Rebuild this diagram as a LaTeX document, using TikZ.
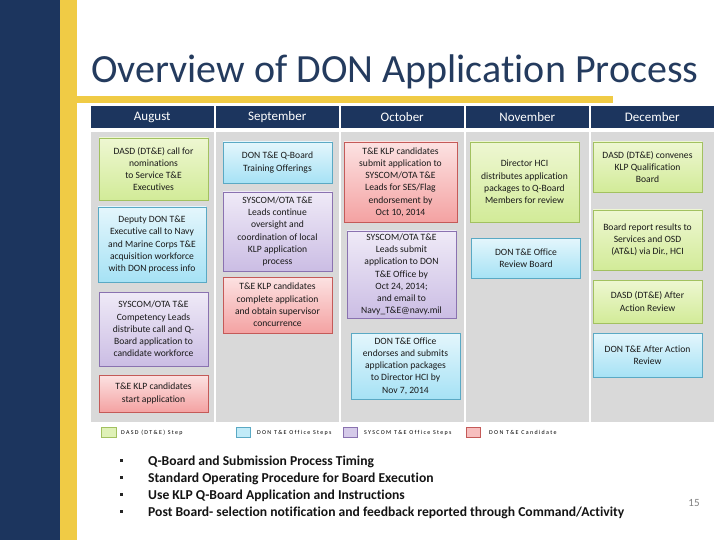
\documentclass[tikz,border=0pt]{standalone}
\usepackage{fontspec}
\setmainfont{Carlito}[Ligatures=NoCommon]
\definecolor{navy}{HTML}{1C355E}
\definecolor{gold}{HTML}{F0CB45}
\definecolor{colgray}{HTML}{D9D9D9}
\definecolor{titlec}{HTML}{243B5E}
\definecolor{gtop}{HTML}{EEF7D2}\definecolor{gbot}{HTML}{D2EB98}\definecolor{gline}{HTML}{A2C160}
\definecolor{btop}{HTML}{E4F6FC}\definecolor{bbot}{HTML}{A6E2F5}\definecolor{bline}{HTML}{5AA9C4}
\definecolor{ptop}{HTML}{EFEAF7}\definecolor{pbot}{HTML}{CBBDE4}\definecolor{pline}{HTML}{8A72B0}
\definecolor{rtop}{HTML}{FCE2E2}\definecolor{rbot}{HTML}{F4A2A2}\definecolor{rline}{HTML}{C45A58}
\tikzset{
  stepbox/.style={draw, line width=0.8pt, align=center, inner sep=1pt,
    minimum width=109pt, text=black!90, font=\fontsize{9.6}{12.2}\selectfont},
  gbox/.style={stepbox, draw=gline, top color=gtop, bottom color=gbot},
  bbox/.style={stepbox, draw=bline, top color=btop, bottom color=bbot},
  pbox/.style={stepbox, draw=pline, top color=ptop, bottom color=pbot},
  rbox/.style={stepbox, draw=rline, top color=rtop, bottom color=rbot},
  legtext/.style={anchor=west, inner sep=0pt, font=\fontsize{6}{6}\selectfont\addfontfeature{LetterSpace=22}},
  bullettext/.style={anchor=base west, inner sep=0pt, font=\fontsize{13.6}{15}\selectfont\bfseries, text=black!92},
  headtext/.style={text=white, font=\fontsize{13}{14}\selectfont},
}
\begin{document}
\begin{tikzpicture}[x=1pt,y=-1pt]
\useasboundingbox (0,0) rectangle (720,540);
\fill[white] (0,0) rectangle (720,540);
\fill[navy] (0,0) rectangle (60,540);
\fill[gold] (60,0) rectangle (77,540);
\fill[gold] (77,96) rectangle (613,103);
\node[anchor=base west, inner sep=0pt, text=titlec, font=\fontsize{40}{44}\selectfont] (title) at (91,83) {Overview of DON Application Process};
% headers and columns
\foreach \m [count=\i from 0] in {August,September,October,November,December}{
  \fill[navy] (91+125*\i,106) rectangle +(122.5,22);
  \fill[colgray] (91+125*\i,132) rectangle +(122.5,290);
  \node[headtext] (h\i) at (152.25+125*\i,117.5) {\m};
}
% August
\node[gbox, minimum height=62pt] (a1) at (153.5,169) {DASD (DT\&E) call for\\nominations\\to Service T\&E\\Executives};
\node[bbox, minimum height=75pt, minimum width=108pt] (a2) at (152,244.5) {Deputy DON T\&E\\Executive call to Navy\\and Marine Corps T\&E\\acquisition workforce\\with DON process info};
\node[pbox, minimum height=74pt] (a3) at (153.5,329) {SYSCOM/OTA T\&E\\Competency Leads\\distribute call and Q-\\Board application to\\candidate workforce};
\node[rbox, minimum height=37pt] (a4) at (153.5,393.5) {T\&E KLP candidates\\start application};
% September
\node[bbox, minimum height=41pt] (s1) at (277.5,162.5) {DON T\&E Q-Board\\Training Offerings};
\node[pbox, minimum height=79pt] (s2) at (277.5,231.5) {SYSCOM/OTA T\&E\\Leads continue\\oversight and\\coordination of local\\KLP application\\process};
\node[rbox, minimum height=56pt] (s3) at (277.5,305) {T\&E KLP candidates\\complete application\\and obtain supervisor\\concurrence};
% October
\node[rbox, minimum height=80pt, minimum width=113pt] (o1) at (400.5,182) {T\&E KLP candidates\\submit application to\\SYSCOM/OTA T\&E\\Leads for SES/Flag\\endorsement by\\Oct 10, 2014};
\node[pbox, minimum height=87pt] (o2) at (401.5,274.5) {SYSCOM/OTA T\&E\\Leads submit\\application to DON\\T\&E Office by\\Oct 24, 2014;\\and email to\\Navy\_T\&E@navy.mil};
\node[bbox, minimum height=66pt] (o3) at (405.5,366) {DON T\&E Office\\endorses and submits\\application packages\\to Director HCI by\\Nov 7, 2014};
% November
\node[gbox, minimum height=80pt] (n1) at (524.5,182) {Director HCI\\distributes application\\packages to Q-Board\\Members for review};
\node[bbox, minimum height=40pt] (n2) at (526,258) {DON T\&E Office\\Review Board};
% December
\node[gbox, minimum height=50pt] (d1) at (647.5,167) {DASD (DT\&E) convenes\\KLP Qualification\\Board};
\node[gbox, minimum height=60pt] (d2) at (647.5,240) {Board report results to\\Services and OSD\\(AT\&L) via Dir., HCI};
\node[gbox, minimum height=43pt] (d3) at (647.5,301.5) {DASD (DT\&E) After\\Action Review};
\node[bbox, minimum height=44pt] (d4) at (647.5,355) {DON T\&E After Action\\Review};
% legend
\filldraw[fill=gbot!70, draw=gline, line width=0.6pt] (101,427) rectangle (116,437);
\node[legtext] (l1) at (121,432.5) {DASD (DT\&E) Step};
\filldraw[fill=bbot!70, draw=bline, line width=0.6pt] (236,427) rectangle (250,437);
\node[legtext] (l2) at (257,432.5) {DON T\&E Office Steps};
\filldraw[fill=pbot!80, draw=pline, line width=0.6pt] (343,427) rectangle (357,437);
\node[legtext] (l3) at (364,432.5) {SYSCOM T\&E Office Steps};
\filldraw[fill=rbot!70, draw=rline, line width=0.6pt] (466,427) rectangle (480,437);
\node[legtext] (l4) at (489,432.5) {DON T\&E Candidate};
% bullets
\foreach \t [count=\k from 0] in {Q-Board and Submission Process Timing,Standard Operating Procedure for Board Execution,Use KLP Q-Board Application and Instructions,Post Board- selection notification and feedback reported through Command/Activity}{
  \fill[black!85] (120,458.5+17*\k) rectangle +(2.6,3);
  \node[bullettext] (b\k) at (148,465+17*\k) {\t};
}
\node[anchor=base, inner sep=0pt, text=black!50, font=\fontsize{11}{12}\selectfont] (pg) at (694,506) {15};
\end{tikzpicture}
\end{document}
